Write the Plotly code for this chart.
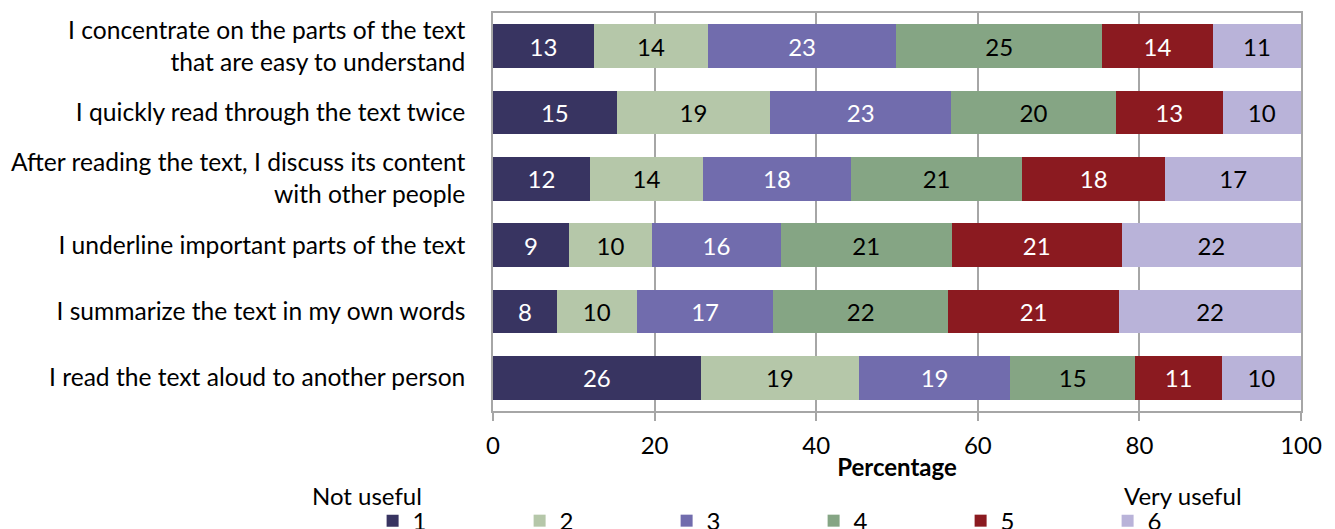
import plotly.graph_objects as go

statements = [
    "I concentrate on the parts of the text<br>that are easy to understand",
    "I quickly read through the text twice",
    "After reading the text, I discuss its content<br>with other people",
    "I underline important parts of the text",
    "I summarize the text in my own words",
    "I read the text aloud to another person",
]
levels = ["1", "2", "3", "4", "5", "6"]

# estimated bar widths (percent) per level, one value per statement
s1 = [12.5, 15.3, 12.0, 9.4, 7.9, 25.7]
s2 = [14.1, 19.0, 14.0, 10.3, 9.9, 19.6]
s3 = [23.3, 22.4, 18.3, 15.9, 16.9, 18.7]
s4 = [25.5, 20.4, 21.2, 21.2, 21.6, 15.5]
s5 = [13.7, 13.2, 17.7, 21.0, 21.2, 10.7]
s6 = [10.9, 9.7, 16.8, 22.2, 22.5, 9.8]

# printed labels
l1 = [13, 15, 12, 9, 8, 26]
l2 = [14, 19, 14, 10, 10, 19]
l3 = [23, 23, 18, 16, 17, 19]
l4 = [25, 20, 21, 21, 22, 15]
l5 = [14, 13, 18, 21, 21, 11]
l6 = [11, 10, 17, 22, 22, 10]

series = [s1, s2, s3, s4, s5, s6]
labels = [l1, l2, l3, l4, l5, l6]
colors = ["#383461", "#b5c7a9", "#716cad", "#85a584", "#8b1a20", "#b9b3d9"]
textcolors = ["white", "black", "white", "black", "white", "black"]

FONT = "Lato, Carlito, Calibri, sans-serif"
FS = 24

fig = go.Figure()
for lv, vals, labs, c, tc in zip(levels, series, labels, colors, textcolors):
    fig.add_trace(go.Bar(
        y=statements, x=vals, name=lv, orientation="h",
        marker=dict(color=c, line=dict(width=0)),
        text=[str(v) for v in labs], textposition="inside",
        insidetextanchor="middle", textangle=0, constraintext="none",
        textfont=dict(color=tc, size=FS, family=FONT),
        hoverinfo="x+y+name",
    ))

fig.update_layout(
    barmode="stack",
    bargap=0.34,
    width=1335, height=529,
    margin=dict(l=493, r=34, t=13, b=118, autoexpand=False),
    plot_bgcolor="white", paper_bgcolor="white",
    font=dict(family=FONT, size=FS, color="black"),
    showlegend=True,
    legend=dict(orientation="h", x=-0.149, y=-0.22, xanchor="left", yanchor="top",
                entrywidth=102, entrywidthmode="pixels",
                font=dict(size=FS, family=FONT), traceorder="normal",
                itemwidth=30, tracegroupgap=0, bgcolor="rgba(0,0,0,0)"),
    xaxis=dict(range=[0, 100], tickvals=[0, 20, 40, 60, 80, 100],
               showgrid=True, gridcolor="#a6a6a6", gridwidth=1.5,
               showline=True, linecolor="#a6a6a6", linewidth=1.5, mirror=True,
               ticks="outside", ticklen=8, tickcolor="#a6a6a6", tickwidth=1.5,
               ticklabelstandoff=4,
               tickfont=dict(size=FS, family=FONT),
               title=dict(text="<b>Percentage</b>", font=dict(size=FS, family=FONT), standoff=2),
               zeroline=False, fixedrange=True),
    yaxis=dict(autorange="reversed", showline=True, linecolor="#a6a6a6", linewidth=1.5,
               mirror=True, showgrid=False, ticks="", ticklabelstandoff=21,
               tickfont=dict(size=24.6, family=FONT), fixedrange=True),
)

fig.add_annotation(text="Not useful", xref="paper", yref="paper", x=-0.2265, y=-0.17,
                   xanchor="left", yanchor="top", showarrow=False,
                   font=dict(size=FS, family=FONT))
fig.add_annotation(text="Very useful", xref="paper", yref="paper", x=0.778, y=-0.17,
                   xanchor="left", yanchor="top", showarrow=False,
                   font=dict(size=FS, family=FONT))

fig.write_html("out.html", config={"displayModeBar": False},
               post_script="document.body.style.margin='0px';")
